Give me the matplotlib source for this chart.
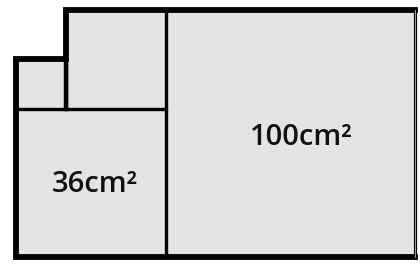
import matplotlib
matplotlib.use('Agg')
import matplotlib.pyplot as plt
from matplotlib.patches import Rectangle

plt.rcParams['font.family'] = ['Open Sans', 'DejaVu Sans']
plt.rcParams['hatch.color'] = '#c8c8c8'
plt.rcParams['hatch.linewidth'] = 0.8

# squares: lower-left x, lower-left y, side
sq_x = [0, 6, 2, 0]
sq_y = [0, 0, 6, 6]
sq_side = [6, 10, 4, 2]
sq_label = ['36cm²', '100cm²', '', '']

# outline of the whole shape (open on the right)
outline_x = [16, 0, 0, 2, 2, 16]
outline_y = [0, 0, 8, 8, 10, 10]

fig = plt.figure(figsize=(4.2, 2.65), dpi=100)
ax = fig.add_axes([0, 0, 1, 1])

for x, y, s in zip(sq_x, sq_y, sq_side):
    ax.add_patch(Rectangle((x, y), s, s, facecolor='#e4e4e4', edgecolor='none',
                           hatch='..', zorder=1))
    ax.add_patch(Rectangle((x, y), s, s, facecolor='none', edgecolor='black',
                           lw=2.3, zorder=2))

ax.plot(outline_x, outline_y, color='black', lw=4.2, solid_joinstyle='miter', zorder=3)
ax.plot([2, 2], [6, 8], color='black', lw=3.2, zorder=3)
ax.plot([16, 16], [0, 10], color='#999999', lw=0.8, zorder=3)

ax.text(3.15, 2.95, sq_label[0], ha='center', va='center', fontsize=21,
        fontweight='semibold', color='#111111', zorder=4)
ax.text(11.45, 4.85, sq_label[1], ha='center', va='center', fontsize=21,
        fontweight='semibold', color='#111111', zorder=4)

ax.set_xlim(-0.64, 16.2)
ax.set_ylim(-0.32, 10.4)
ax.axis('off')

fig.savefig('out.png', dpi=100)
